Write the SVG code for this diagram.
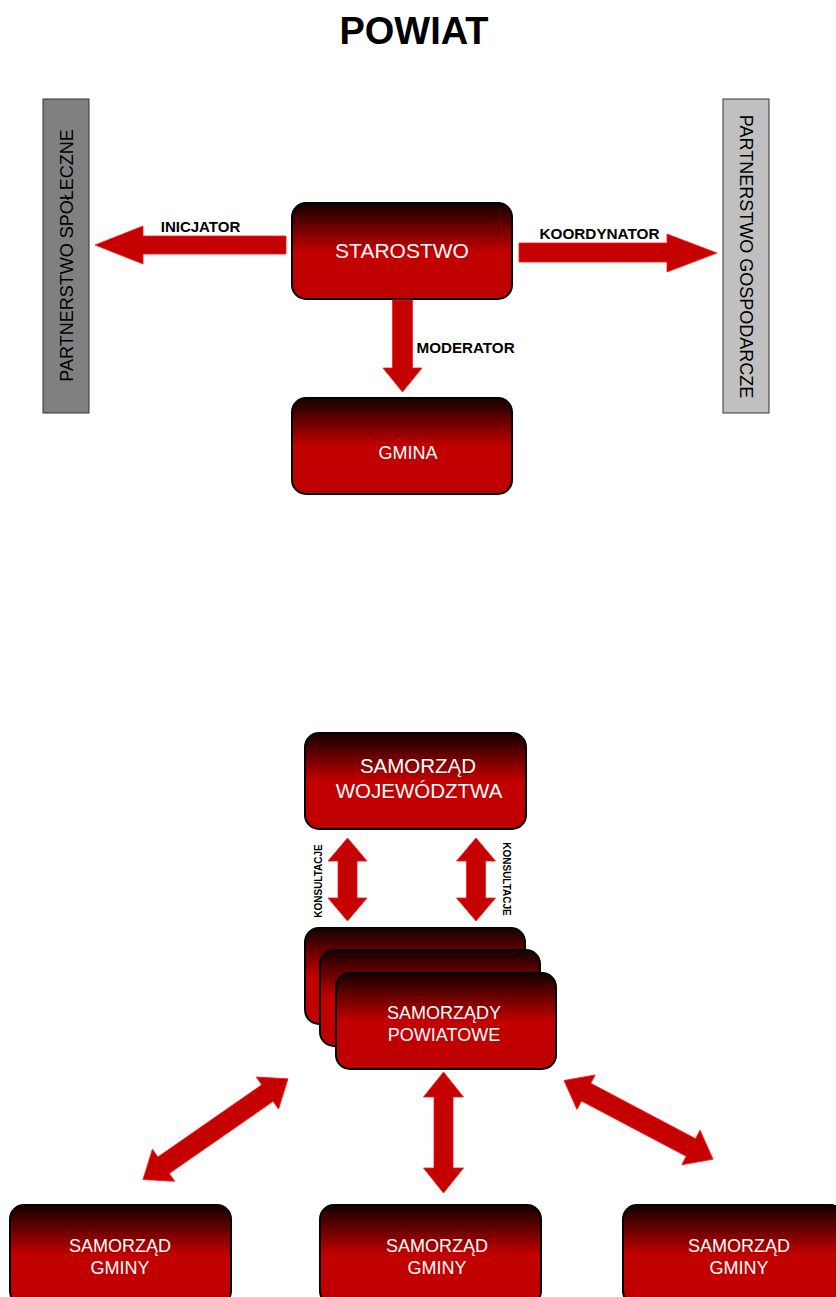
<svg xmlns="http://www.w3.org/2000/svg" width="836" height="1297" viewBox="0 0 836 1297">
<defs>
<linearGradient id="rg" x1="0" y1="0" x2="0" y2="1">
<stop offset="0" stop-color="#140000"/>
<stop offset="0.5" stop-color="#c20000"/>
<stop offset="1" stop-color="#bf0000"/>
</linearGradient>
</defs>
<style>
.box{fill:url(#rg);stroke:#000;stroke-width:2}
.arr{fill:#c40000;stroke:#ff1a1a;stroke-width:0.8}
.wt{fill:#fff;font-family:"Liberation Sans",Arial,sans-serif;text-anchor:middle}
.lb{fill:#000;font-family:"Liberation Sans",Arial,sans-serif;font-weight:bold}
.side{font-family:"Liberation Sans",Arial,sans-serif;font-size:18px;fill:#000;text-anchor:middle}
</style>
<rect width="836" height="1297" fill="#fff"/>
<text x="414" y="44" font-family="Liberation Sans, Arial, sans-serif" font-weight="bold" font-size="38" text-anchor="middle">POWIAT</text>

<g id="partnerstwo-spoleczne">
<rect x="43" y="99" width="46" height="314" fill="#808080" stroke="#333" stroke-width="1"/>
<text class="side" transform="translate(72.5,255.5) rotate(-90)">PARTNERSTWO SPOŁECZNE</text>
</g>
<g id="partnerstwo-gospodarcze">
<rect x="723" y="99" width="46" height="314" fill="#c0c0c0" stroke="#333" stroke-width="1"/>
<text class="side" transform="translate(740,256.5) rotate(90)">PARTNERSTWO GOSPODARCZE</text>
</g>

<g id="starostwo">
<rect class="box" x="292" y="203" width="220" height="96" rx="14"/>
<text class="wt" x="402" y="258" font-size="21">STAROSTWO</text>
</g>
<g id="gmina">
<rect class="box" x="292" y="398" width="220" height="96" rx="14"/>
<text class="wt" x="408" y="459" font-size="18">GMINA</text>
</g>

<g id="samorzad-wojewodztwa">
<rect class="box" x="305" y="733" width="221" height="96" rx="14"/>
<text class="wt" x="418" y="773" font-size="20.5">SAMORZĄD</text>
<text class="wt" x="419" y="798" font-size="20.5">WOJEWÓDZTWA</text>
</g>

<g id="samorzady-powiatowe">
<rect class="box" x="305" y="928" width="220" height="96" rx="14"/>
<rect class="box" x="320" y="950" width="220" height="96" rx="14"/>
<rect class="box" x="336" y="973" width="220" height="96" rx="14"/>
<text class="wt" x="444" y="1019" font-size="18">SAMORZĄDY</text>
<text class="wt" x="444" y="1041" font-size="18">POWIATOWE</text>
</g>

<g id="gmina-1">
<rect class="box" x="10" y="1205" width="221" height="100" rx="14"/>
<text class="wt" x="120" y="1252" font-size="18">SAMORZĄD</text>
<text class="wt" x="120" y="1274" font-size="18">GMINY</text>
</g>
<g id="gmina-2">
<rect class="box" x="320" y="1205" width="221" height="100" rx="14"/>
<text class="wt" x="437" y="1252" font-size="18">SAMORZĄD</text>
<text class="wt" x="437" y="1274" font-size="18">GMINY</text>
</g>
<g id="gmina-3">
<rect class="box" x="623" y="1205" width="221" height="100" rx="14"/>
<text class="wt" x="739" y="1252" font-size="18">SAMORZĄD</text>
<text class="wt" x="739" y="1274" font-size="18">GMINY</text>
</g>

<g id="connectors">
<polygon class="arr" points="95,245 143,226 143,236 286,236 286,254 143,254 143,264"/>
<text class="lb" x="200.5" y="232" font-size="15" text-anchor="middle">INICJATOR</text>
<polygon class="arr" points="519,243 667,243 667,234 717,253 667,272 667,262 519,262"/>
<text class="lb" x="599.5" y="239" font-size="15.3" text-anchor="middle">KOORDYNATOR</text>
<polygon class="arr" points="392.5,300 412.5,300 412.5,368 422,368 402.5,392 383,368 392.5,368"/>
<text class="lb" x="416.5" y="353" font-size="15.2">MODERATOR</text>

<polygon class="arr" points="347.5,838 367,861 357,861 357,898 367,898 347.5,921 328,898 338,898 338,861 328,861"/>
<polygon class="arr" points="476,838 495.5,861 485.5,861 485.5,898 495.5,898 476,921 456.5,898 466.5,898 466.5,861 456.5,861"/>
<text class="lb" font-size="10" text-anchor="middle" transform="translate(321.5,881) rotate(-90)">KONSULTACJE</text>
<text class="lb" font-size="10" text-anchor="middle" transform="translate(503,879) rotate(90)">KONSULTACJE</text>

<g transform="translate(143,1179.5) rotate(-34.78)">
<polygon class="arr" points="0,0 25,-19.5 25,-10 151.5,-10 151.5,-19.5 176.5,0 151.5,19.5 151.5,10 25,10 25,19.5"/>
</g>
<polygon class="arr" points="443.5,1072 463.5,1097 453,1097 453,1168 463.5,1168 443.5,1193 423.5,1168 434,1168 434,1097 423.5,1097"/>
<g transform="translate(564,1080.5) rotate(27.83)">
<polygon class="arr" points="0,0 25,-19.5 25,-10 143.5,-10 143.5,-19.5 168.5,0 143.5,19.5 143.5,10 25,10 25,19.5"/>
</g>
</g>
</svg>
